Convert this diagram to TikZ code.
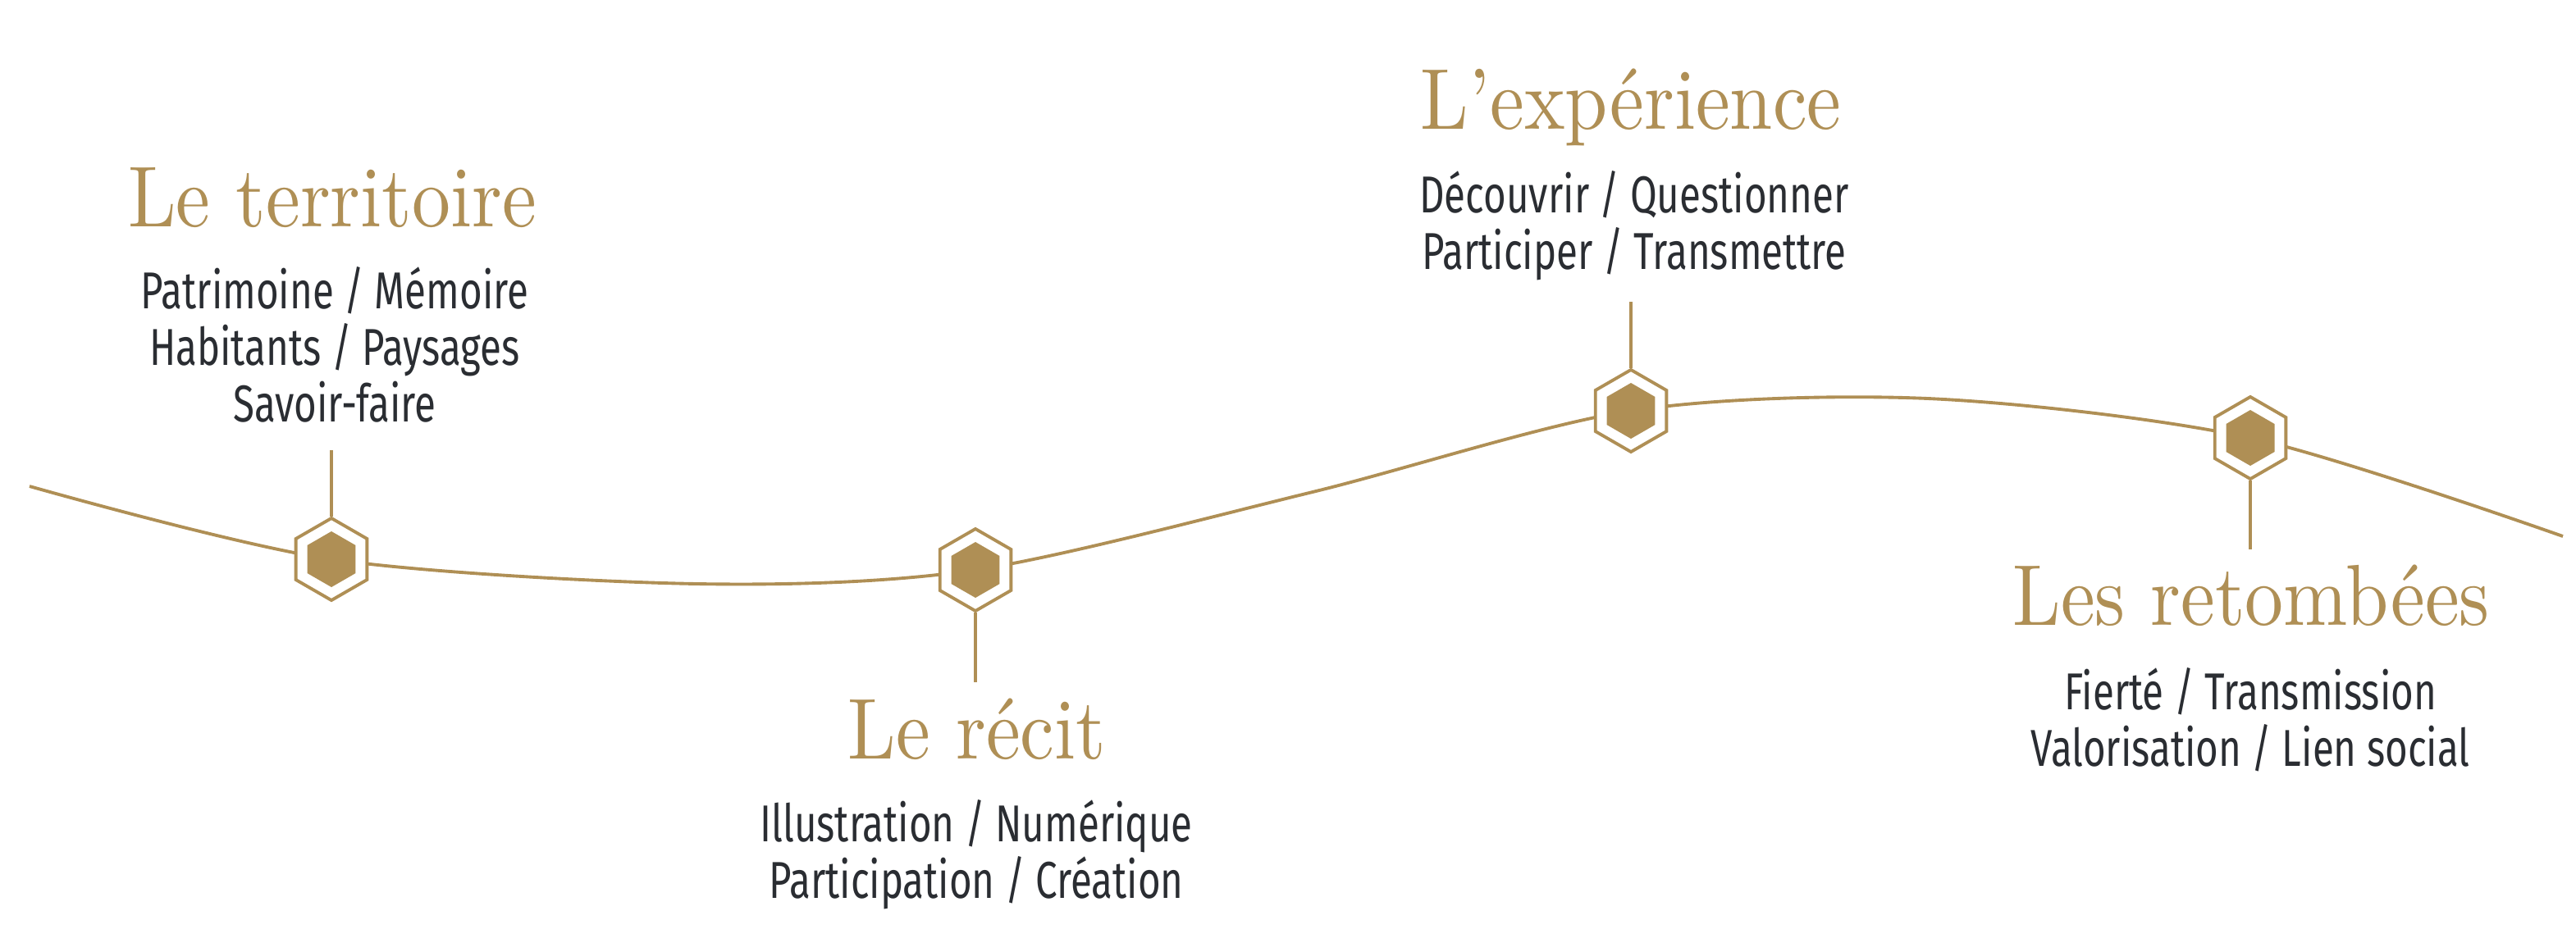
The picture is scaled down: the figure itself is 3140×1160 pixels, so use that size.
\documentclass[tikz,border=0pt]{standalone}
\usepackage{fontspec}
\usepackage{tikz}
\usetikzlibrary{shapes.geometric}
\usetikzlibrary{backgrounds}
\setmainfont[FakeStretch=0.75]{Fira Sans}
\newfontfamily\titlefont[FakeStretch=0.89]{lmroman10-regular.otf}
\definecolor{gold}{HTML}{AF8F55}
\definecolor{ink}{HTML}{2A2D32}

\begin{document}
\begin{tikzpicture}[x=0.01cm, y=-0.01cm,
	hexout/.style={regular polygon, regular polygon sides=6, shape border rotate=30, draw=gold, line width=1.1pt, fill=white, minimum size=1cm, inner sep=0pt},
	hexin/.style={regular polygon, regular polygon sides=6, shape border rotate=30, fill=gold, minimum size=0.68cm, inner sep=0pt},
	headline/.style={anchor=base, text=gold, inner sep=0pt, font=\titlefont\fontsize{30}{36}\selectfont},
	words/.style={anchor=base, align=center, text=ink, inner sep=0pt, font=\fontsize{18}{19.6}\selectfont},
	link/.style={draw=gold, line width=1.1pt}]
	\useasboundingbox (0,0) rectangle (3140,1160);

	% Le territoire
	\node[hexout] (hexA) at (404,682) {};
	\node[hexin] (dotA) at (hexA.center) {};
	\coordinate (tipA) at (404,549);
	\draw[link] (hexA) -- (tipA);
	\node[headline] (titleA) at (405,276) {Le territoire};
	\node[words] (listA) at (408,514) {Patrimoine / Mémoire\\Habitants / Paysages\\Savoir-faire};

	% Le récit
	\node[hexout] (hexB) at (1189,695) {};
	\node[hexin] (dotB) at (hexB.center) {};
	\coordinate (tipB) at (1189,832);
	\draw[link] (hexB) -- (tipB);
	\node[headline] (titleB) at (1191,925) {Le récit};
	\node[words] (listB) at (1190,1095) {Illustration / Numérique\\Participation / Création};

	% L'expérience
	\node[hexout] (hexC) at (1988,501) {};
	\node[hexin] (dotC) at (hexC.center) {};
	\coordinate (tipC) at (1988,368);
	\draw[link] (hexC) -- (tipC);
	\node[headline] (titleC) at (1988,157) {L’expérience};
	\node[words] (listC) at (1992,328) {Découvrir / Questionner\\Participer / Transmettre};

	% Les retombées
	\node[hexout] (hexD) at (2743,534) {};
	\node[hexin] (dotD) at (hexD.center) {};
	\coordinate (tipD) at (2743,670);
	\draw[link] (hexD) -- (tipD);
	\node[headline] (titleD) at (2744,762) {Les retombées};
	\node[words] (listD) at (2743,934) {Fierté / Transmission\\Valorisation / Lien social};

	% the path
	\coordinate (startP) at (36,593);
	\coordinate (endP) at (3124,654);
	\begin{scope}[on background layer]
		\draw[link] plot[smooth] coordinates {(startP) (hexA.center) (850,712) (hexB.center) (1600,600) (hexC.center) (2350,486) (hexD.center) (endP)};
	\end{scope}
\end{tikzpicture}
\end{document}
